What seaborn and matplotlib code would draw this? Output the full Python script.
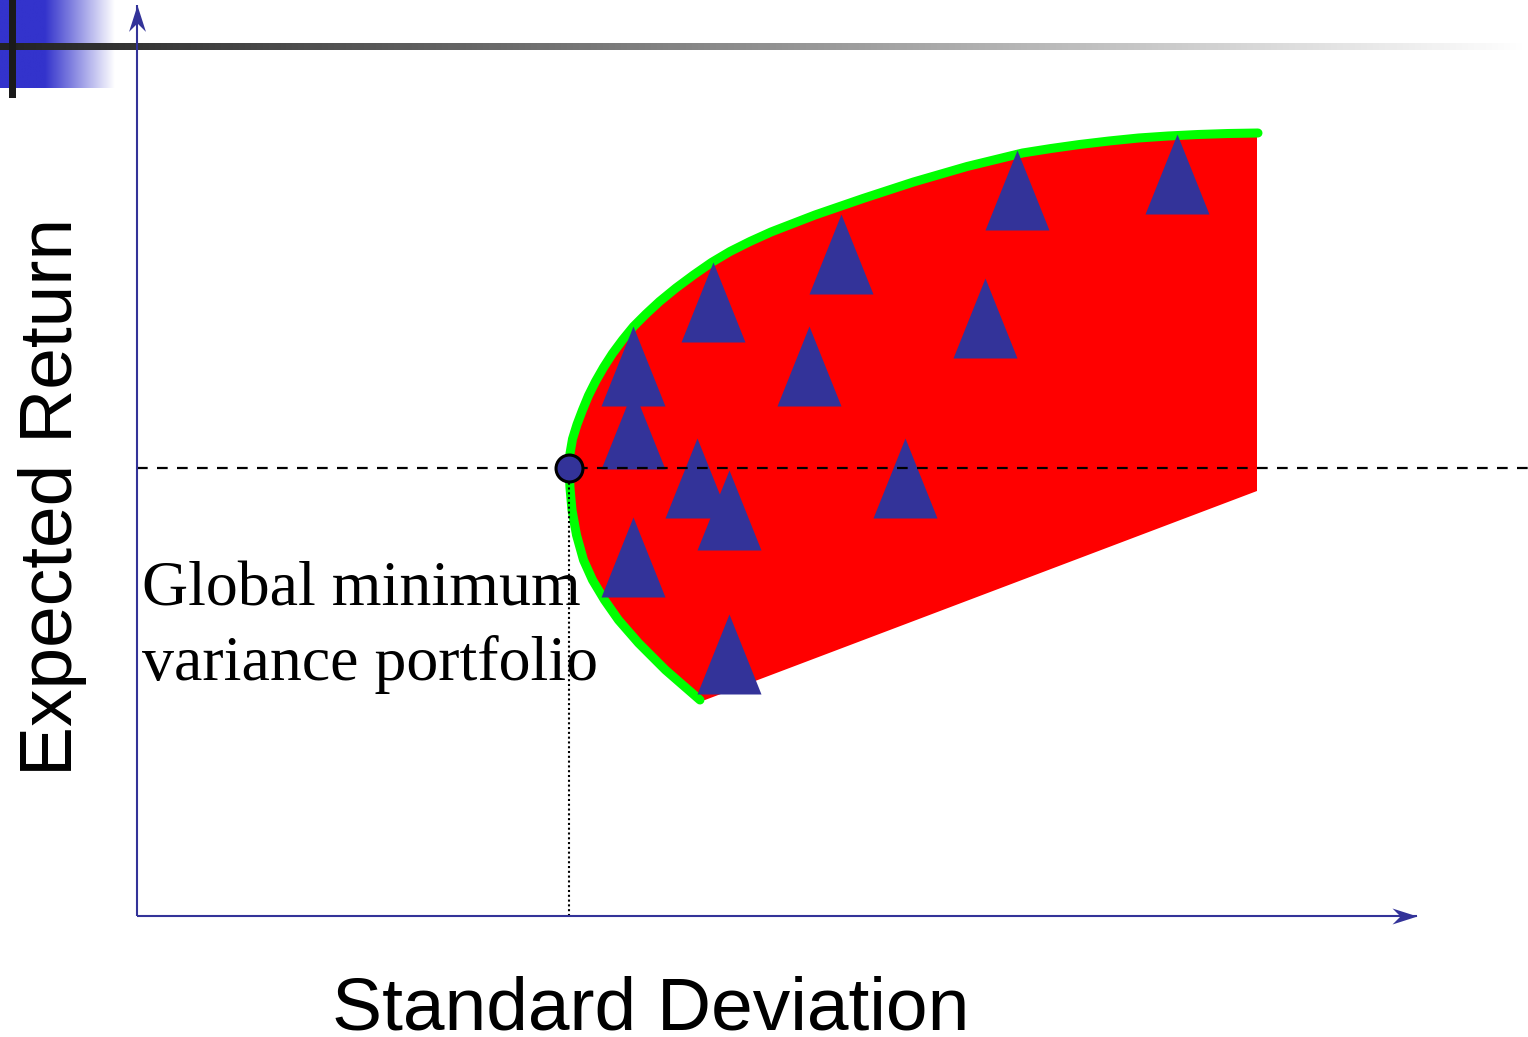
import numpy as np
import matplotlib
matplotlib.use("Agg")
import matplotlib.pyplot as plt
from matplotlib.path import Path
import seaborn as sns

# ---- data (standard deviation %, expected return %) ----
# minimum-variance frontier, lower end -> global minimum -> upper end
frontier_sd = [11.26, 10.57, 10.03, 9.63, 9.35, 9.11, 8.93, 8.79, 8.70, 8.66,
               8.64,
               8.66, 8.71, 8.80, 8.91, 9.03, 9.17, 9.33, 9.51, 9.71, 9.93,
               10.18, 10.45, 10.78, 11.13, 11.49, 11.86, 12.26, 12.68, 13.56, 14.52,
               15.53, 16.60, 17.71, 18.28, 18.85, 19.44, 20.03, 20.62, 21.22, 21.82,
               22.42]
frontier_ret = [4.32, 4.92, 5.46, 5.92, 6.32, 6.72, 7.12, 7.62, 8.12, 8.56,
                8.96,
                9.25, 9.54, 9.83, 10.12, 10.41, 10.69, 10.97, 11.25, 11.52, 11.79,
                12.04, 12.29, 12.56, 12.82, 13.07, 13.29, 13.49, 13.68, 14.02, 14.35,
                14.68, 14.99, 15.26, 15.35, 15.43, 15.50, 15.56, 15.60, 15.63, 15.65,
                15.66]

# remaining corners of the feasible set
region_sd = [22.40, 22.40, 11.36]
region_ret = [15.66, 8.50, 4.32]

# individual assets
asset_sd = [9.92, 9.92, 11.52, 13.44, 14.08, 17.60, 20.80, 16.96, 11.20, 11.84,
            15.36, 9.92, 11.84]
asset_ret = [11.01, 9.75, 12.28, 11.01, 13.25, 14.53, 14.85, 11.97, 8.77, 8.13,
             8.77, 7.18, 5.25]

# global minimum variance portfolio
gmv_sd = 8.64
gmv_ret = 8.96

# axis extents (arrow tips)
sd_axis_max = 25.60
ret_axis_max = 18.22

x_label = "Standard Deviation"
y_label = "Expected Return"
gmv_label_lines = ["Global minimum", "variance portfolio"]

# ---- style ----
sns.set_theme(style="white")
plt.rcParams["font.family"] = ["Liberation Sans", "DejaVu Sans"]

NAVY = "#333399"
RED = "#FF0000"
GREEN = "#00FF00"

W, H = 1528, 1037
fig = plt.figure(figsize=(W / 100, H / 100), dpi=100)

# ---- slide decoration (figure pixel space) ----
deco = fig.add_axes([0, 0, 1, 1])
deco.axis("off")

t = np.linspace(0, 1, 256)
blue = np.array([0x33, 0x33, 0xCC]) / 255.0
mix = np.clip((t - 0.39) / 0.61, 0, 1)[:, None]
blue_grad = (blue * (1 - mix) + 1.0 * mix)[None, :, :]
deco.imshow(blue_grad, extent=(0, 115, 88, 0), aspect="auto", zorder=1)

dark = np.array([0x22, 0x22, 0x22]) / 255.0
bar_grad = (dark * (1 - t[:, None]) + 1.0 * t[:, None])[None, :, :]
deco.imshow(bar_grad, extent=(0, W, 50, 43), aspect="auto", zorder=2)
deco.fill_between([9, 16], 0, 98, color="#1a1a1a", lw=0, zorder=3)
deco.set_xlim(0, W)
deco.set_ylim(H, 0)

# ---- main diagram ----
ax = fig.add_axes([0, 0, 1, 1])
ax.patch.set_alpha(0)
px = 50.0
ax.set_xlim(-137 / px, (W - 137) / px)
ax.set_ylim(-(H - 916) / px, 916 / px)
ax.axis("off")

# feasible set
ax.fill(frontier_sd + region_sd, frontier_ret + region_ret,
        color=RED, lw=0, zorder=2)

# frontier
sns.lineplot(x=frontier_sd, y=frontier_ret, sort=False, estimator=None,
             color=GREEN, linewidth=6.5, solid_capstyle="round",
             solid_joinstyle="round", ax=ax, zorder=3)

# assets
tri = Path([(0, 1), (-0.8, -1), (0.8, -1), (0, 1)],
           [Path.MOVETO, Path.LINETO, Path.LINETO, Path.CLOSEPOLY])
sns.scatterplot(x=asset_sd, y=asset_ret, marker=tri, s=57.6 ** 2,
                color=NAVY, linewidth=0, ax=ax, zorder=4)

# guide lines through the minimum variance portfolio
xmax = ax.get_xlim()[1]
ax.plot([0, xmax], [gmv_ret, gmv_ret], color="black", lw=1.6,
        dashes=(4.8, 4.2), zorder=5)
ax.plot([gmv_sd, gmv_sd], [0, gmv_ret], color="black", lw=1.5,
        dashes=(1, 1.3), zorder=5)

sns.scatterplot(x=[gmv_sd], y=[gmv_ret], s=19.4 ** 2, color=NAVY,
                edgecolor="black", linewidth=2.2, ax=ax, zorder=6)

# axes with arrow heads
ax.plot([0, sd_axis_max], [0, 0], color=NAVY, lw=1.5, zorder=7,
        solid_capstyle="butt")
ax.plot([0, 0], [0, ret_axis_max], color=NAVY, lw=1.5, zorder=7,
        solid_capstyle="butt")
head_x = Path([(0, 0), (-1, 0.32), (-0.68, 0), (-1, -0.32), (0, 0)],
              [Path.MOVETO, Path.LINETO, Path.LINETO, Path.LINETO, Path.CLOSEPOLY])
head_y = Path([(0, 0), (0.32, -1), (0, -0.68), (-0.32, -1), (0, 0)],
              [Path.MOVETO, Path.LINETO, Path.LINETO, Path.LINETO, Path.CLOSEPOLY])
ax.plot([sd_axis_max], [0], marker=head_x, markersize=36, color=NAVY,
        markeredgewidth=0, zorder=8)
ax.plot([0], [ret_axis_max], marker=head_y, markersize=38, color=NAVY,
        markeredgewidth=0, zorder=8)

# labels
ax.text((651 - 137) / px, -(1029 - 916) / px, x_label, fontsize=54,
        ha="center", va="baseline", color="black", zorder=9)
ax.text((72 - 137) / px, (916 - 497) / px, y_label, fontsize=54,
        rotation=90, rotation_mode="anchor", ha="center", va="baseline",
        color="black", zorder=9)
for line, base in zip(gmv_label_lines, [605, 680]):
    ax.text((142 - 137) / px, (916 - base) / px, line, fontsize=46,
            family=["Liberation Serif", "DejaVu Serif"], ha="left",
            va="baseline", color="black", zorder=4.5)

fig.savefig("out.png", dpi=100)
